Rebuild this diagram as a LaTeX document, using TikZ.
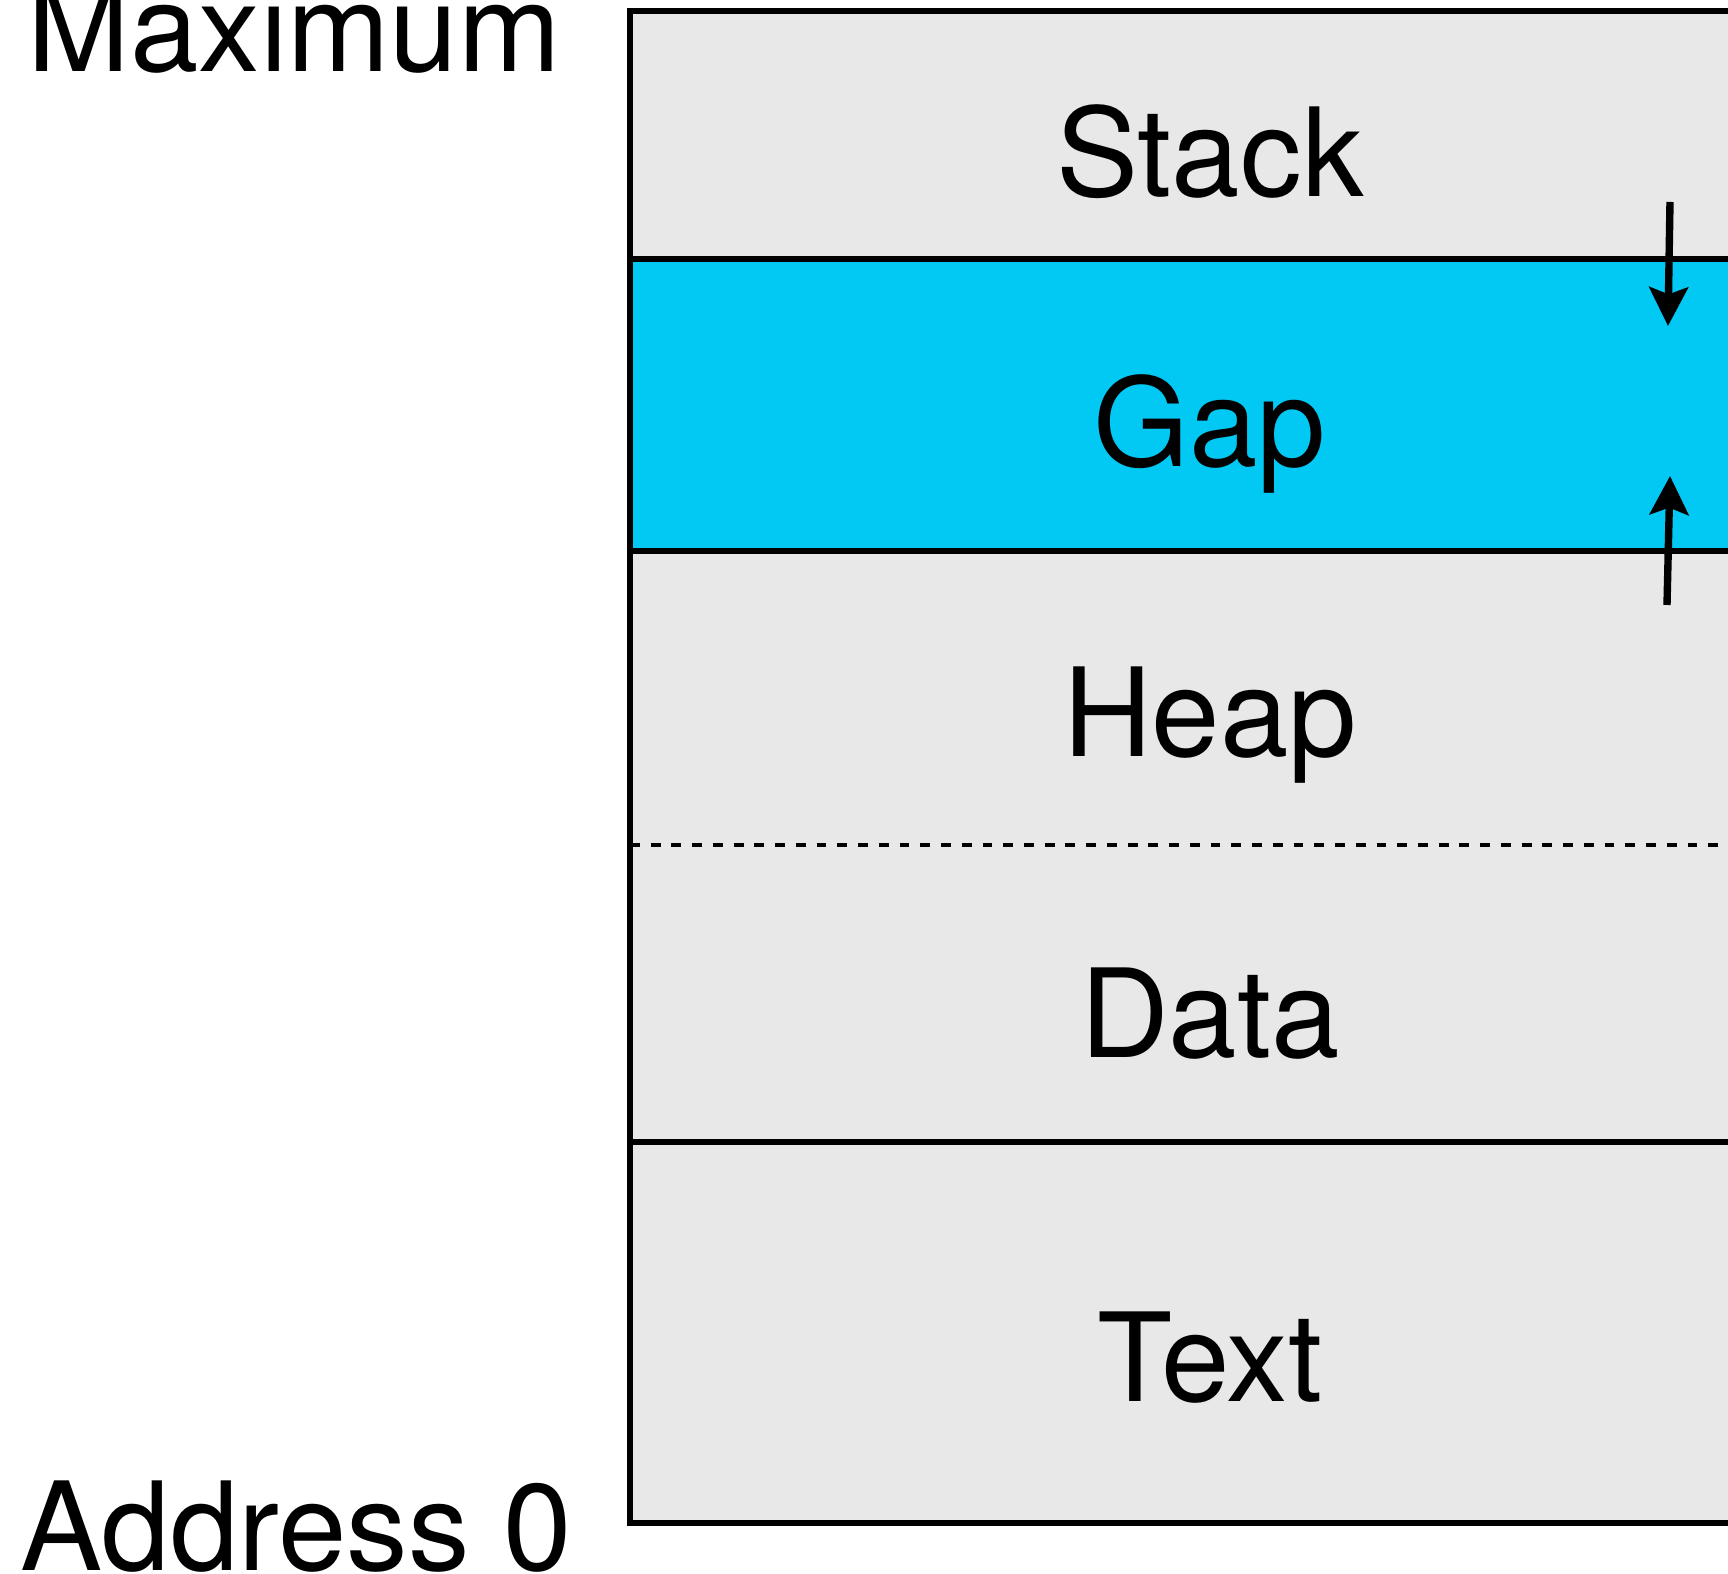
\documentclass[tikz,border=0pt]{standalone}
\usepackage{fontspec}
\setmainfont{TeX Gyre Heros}
\usetikzlibrary{arrows.meta}

\definecolor{segfill}{HTML}{E8E8E8}
\definecolor{gapfill}{HTML}{02C8F4}

\begin{document}
\begin{tikzpicture}
    % styles for the memory layout
    \tikzset{
        border/.style={draw=black, line width=1.7pt},
        split/.style={draw=black, line width=1.3pt, dash pattern=on 2.8pt off 3.1pt},
        region/.style={font=\fontsize{35}{42}\selectfont, anchor=base, inner sep=0pt},
        addr/.style={font=\fontsize{35}{42}\selectfont, anchor=base west, inner sep=0pt},
        growth/.style={line width=2.1pt, -{Stealth[length=11pt, width=11pt, inset=2pt]}},
    }

    % page frame, the address space runs off the right side
    \clip (0,0) rectangle (17.28,15.74);

    % fills of the segments
    \fill[segfill] (6.30,0.51) rectangle (17.90,15.63);
    \fill[gapfill] (6.30,10.23) rectangle (17.90,13.15);

    % outline and segment borders
    \draw[border] (17.90,15.63) -- (6.30,15.63) -- (6.30,0.51) -- (17.90,0.51);
    \foreach \y in {13.15,10.23,4.32} {
        \draw[border] (6.30,\y) -- (17.90,\y);
    }
    \draw[split] (6.30,7.29) -- (17.90,7.29);

    % segment names
    \node[region] (stack) at (12.10,13.77) {Stack};
    \node[region] (gap)   at (12.10,11.07) {Gap};
    \node[region] (heap)  at (12.10,8.17)  {Heap};
    \node[region] (data)  at (12.10,5.16)  {Data};
    \node[region] (text)  at (12.10,1.72)  {Text};

    % address ends
    \node[addr] (addrmax)  at (0.27,15.02) {Maximum};
    \node[addr] (addrzero) at (0.20,0.03)  {Address 0};

    % stack grows down, heap grows up
    \coordinate (stacktop) at (16.70,13.72);
    \coordinate (stackend) at (16.68,12.48);
    \coordinate (heapbot)  at (16.67,9.69);
    \coordinate (heapend)  at (16.70,10.98);
    \draw[growth] (stacktop) -- (stackend);
    \draw[growth] (heapbot) -- (heapend);
\end{tikzpicture}
\end{document}
